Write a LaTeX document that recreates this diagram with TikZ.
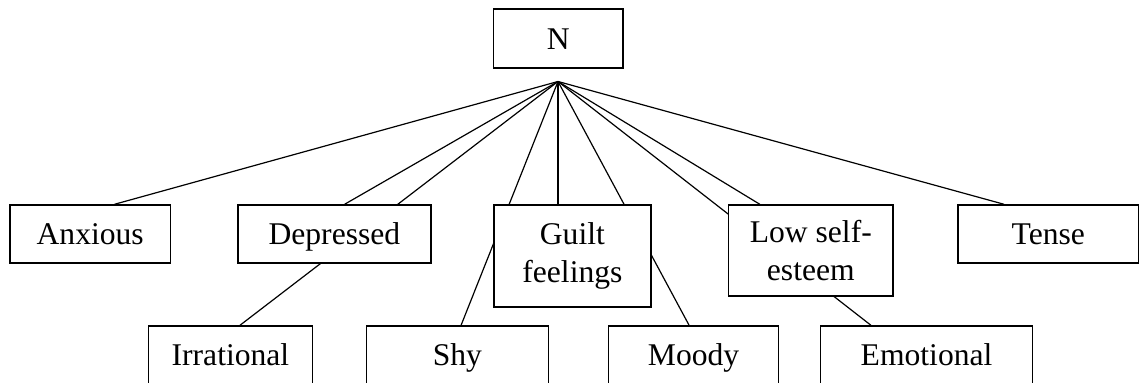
\documentclass[tikz,border=0pt]{standalone}
\usepackage{fontspec}
\setmainfont{Liberation Serif}
\usetikzlibrary{calc,backgrounds}

\begin{document}
\begin{tikzpicture}[x=0.5pt, y=-0.5pt,
		cell/.style={draw, fill=white, line width=0.7pt, inner sep=0pt, font=\fontsize{15.8}{18.8}\selectfont},
		one/.style={cell, text height=11pt, text depth=0pt, minimum height=29pt},
		two/.style={cell, align=center},
		tie/.style={line width=0.6pt}]
			%%%%% START %%%%%
			
			\useasboundingbox (0, 0) rectangle (1139, 383);
			
			\node[one, minimum width=64.7pt, minimum height=29.5pt] (N) at (558.3, 38.5) {N};
			\coordinate (top) at (558, 81.5);
			
			\node[one, minimum width=80.35pt] (Anxious) at (90.2, 234) {Anxious};
			\node[one, minimum width=96.4pt] (Depressed) at (334.4, 234) {Depressed};
			\node[two, minimum width=78.55pt, minimum height=51pt] (Guilt) at (572.4, 256) {Guilt\\feelings};
			\node[two, minimum width=82.2pt, minimum height=45.5pt] (Low) at (810.8, 250.5) {Low self-\\esteem};
			\node[one, minimum width=90.25pt] (Tense) at (1048.25, 234) {Tense};
			
			\node[one, minimum width=82.15pt] (Irrational) at (230.45, 355) {Irrational};
			\node[one, minimum width=90.95pt] (Shy) at (457.35, 355) {Shy};
			\node[one, minimum width=85.1pt] (Moody) at (693.6, 355) {Moody};
			\node[one, minimum width=106.15pt] (Emotional) at (926.55, 355) {Emotional};
			
			\begin{pgfonlayer}{background}
			\draw[tie] (top) -- ($(Anxious.north)+(24.3, 0)$);
			\draw[tie] (top) -- ($(Depressed.north)+(10.2, 0)$);
			\draw[tie] (top) -- ($(Irrational.north)+(9.5, 0)$);
			\draw[tie] (top) -- ($(Shy.north)+(3.7, 0)$);
			\draw[tie] (top) -- ($(Guilt.north)+(-14.4, 0)$);
			\draw[tie] (top) -- ($(Moody.north)+(-4.5, 0)$);
			\draw[tie] (top) -- ($(Low.north)+(-51, 0)$);
			\draw[tie] (top) -- ($(Emotional.north)+(-55.6, 0)$);
			\draw[tie] (top) -- ($(Tense.north)+(-44.2, 0)$);
			\end{pgfonlayer}
			
			%%%%% END %%%%%
		\end{tikzpicture}
\end{document}
